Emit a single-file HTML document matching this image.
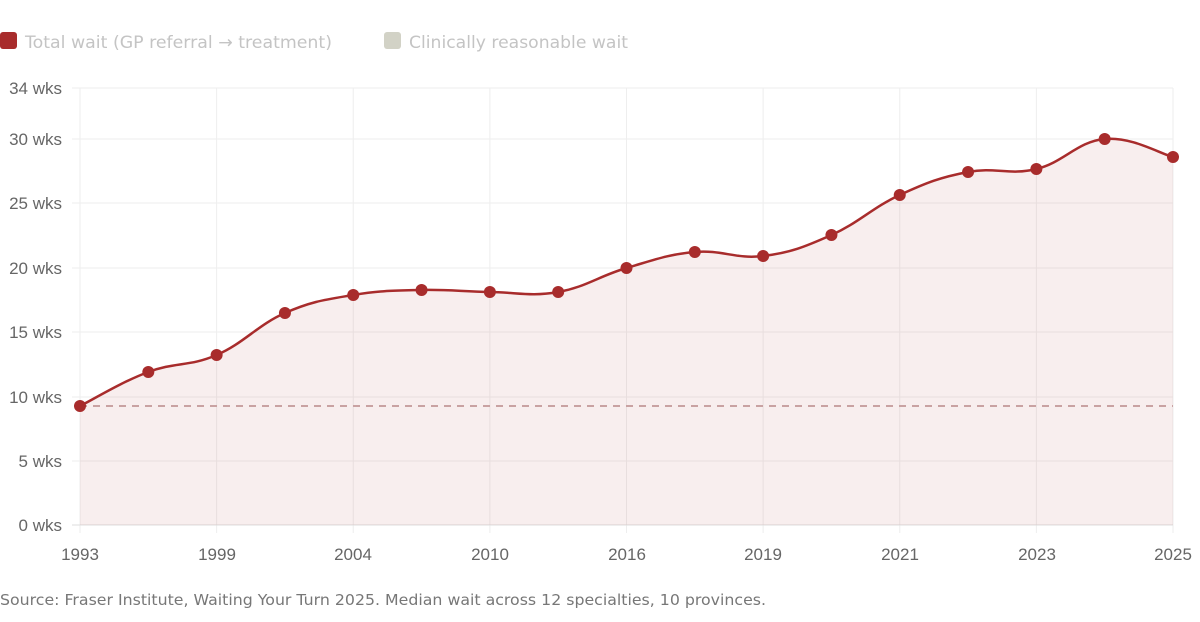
<!DOCTYPE html>
<html><head><meta charset="utf-8"><style>
html,body{margin:0;padding:0;background:#fff;width:1200px;height:622px;overflow:hidden}
svg{display:block}
</style></head><body>
<svg id="s" width="1200" height="622" viewBox="0 0 1200 622">
<rect x="0" y="32" width="17" height="17" rx="3" fill="#a82c2c"/>
<text font-family="DejaVu Sans, sans-serif" x="25" y="48" font-size="17" fill="#c4c4c4" textLength="307" lengthAdjust="spacingAndGlyphs">Total wait (GP referral → treatment)</text>
<rect x="384" y="32" width="17" height="17" rx="3" fill="#d2d2c6"/>
<text font-family="DejaVu Sans, sans-serif" x="409" y="48" font-size="17" fill="#c4c4c4" textLength="219" lengthAdjust="spacingAndGlyphs">Clinically reasonable wait</text>
<g id="grid" stroke="#eeeeee" stroke-width="1"></g>
<g font-family="Liberation Sans, sans-serif" font-size="17" fill="#666" text-anchor="end">
<text x="62" y="94">34 wks</text><text x="62" y="145">30 wks</text><text x="62" y="209">25 wks</text>
<text x="62" y="274">20 wks</text><text x="62" y="338">15 wks</text><text x="62" y="403">10 wks</text>
<text x="62" y="467">5 wks</text><text x="62" y="531">0 wks</text>
</g>
<g font-family="Liberation Sans, sans-serif" font-size="17" fill="#666" text-anchor="middle">
<text x="80" y="560">1993</text><text x="217" y="560">1999</text><text x="353" y="560">2004</text>
<text x="490" y="560">2010</text><text x="627" y="560">2016</text><text x="763" y="560">2019</text>
<text x="900" y="560">2021</text><text x="1037" y="560">2023</text><text x="1173" y="560">2025</text>
</g>
<path id="area" fill="rgba(168,44,44,0.08)"/>
<line x1="80" y1="406" x2="1173" y2="406" stroke="#c9a2a2" stroke-width="2" stroke-dasharray="7,6"/>
<path id="line" fill="none" stroke="#a82c2c" stroke-width="2.5"/>
<g id="pts" fill="#a82c2c"></g>
<text font-family="DejaVu Sans, sans-serif" x="0" y="605" font-size="15.5" fill="#777" textLength="766" lengthAdjust="spacingAndGlyphs">Source: Fraser Institute, Waiting Your Turn 2025. Median wait across 12 specialties, 10 provinces.</text>
</svg>
<script>
var ys=[406,372,355,313,295,290,292,292,268,252,256,235,195,172,169,139,157];
var xs=ys.map(function(_,i){return 80+i*1093/16});
var ns="http://www.w3.org/2000/svg",g=document.getElementById('grid');
[88,139,203,268,332,397,461].forEach(function(y){var l=document.createElementNS(ns,'line');l.setAttribute('x1',72);l.setAttribute('x2',1173);l.setAttribute('y1',y);l.setAttribute('y2',y);g.appendChild(l);});
for(var i=0;i<17;i+=2){var l=document.createElementNS(ns,'line');l.setAttribute('x1',xs[i]);l.setAttribute('x2',xs[i]);l.setAttribute('y1',88);l.setAttribute('y2',533);g.appendChild(l);}
var b=document.createElementNS(ns,'line');b.setAttribute('x1',72);b.setAttribute('x2',1173);b.setAttribute('y1',525);b.setAttribute('y2',525);b.setAttribute('stroke','#ddd');g.appendChild(b);
var d='M'+xs[0]+','+ys[0],t=0.2;
for(var i=0;i<16;i++){var p0=i?i-1:i,p3=i+2<17?i+2:i+1;
var c1x=xs[i]+(xs[i+1]-xs[p0])*t,c1y=ys[i]+(ys[i+1]-ys[p0])*t;
var c2x=xs[i+1]-(xs[p3]-xs[i])*t,c2y=ys[i+1]-(ys[p3]-ys[i])*t;
d+=' C'+c1x+','+c1y+' '+c2x+','+c2y+' '+xs[i+1]+','+ys[i+1];}
document.getElementById('line').setAttribute('d',d);
document.getElementById('area').setAttribute('d',d+' L1173,525 L80,525 Z');
var P=document.getElementById('pts');
xs.forEach(function(x,i){var c=document.createElementNS(ns,'circle');c.setAttribute('cx',x);c.setAttribute('cy',ys[i]);c.setAttribute('r',6);P.appendChild(c);});
</script>
</body></html>
